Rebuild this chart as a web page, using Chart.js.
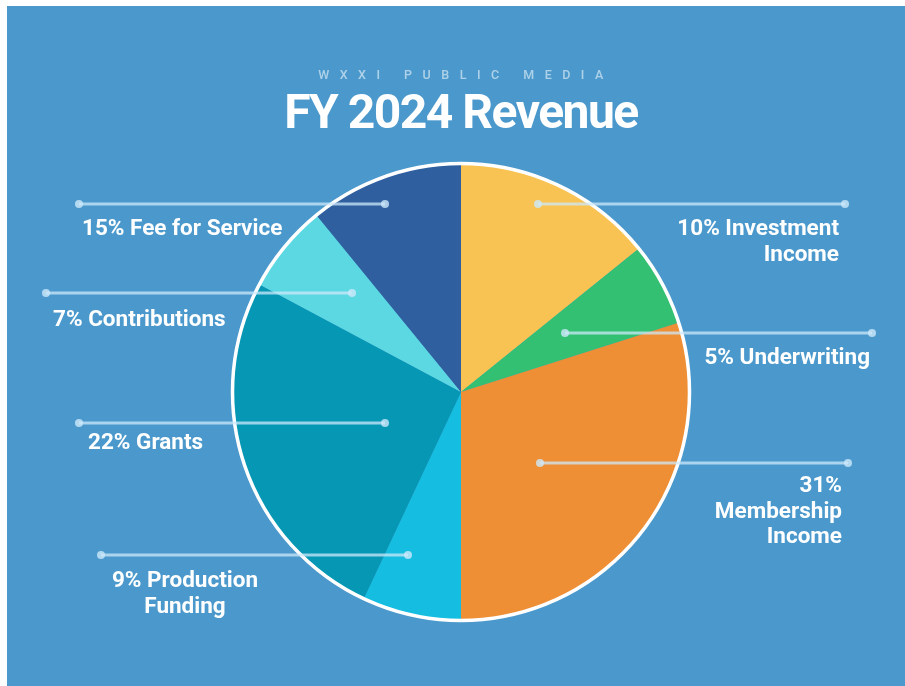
<!DOCTYPE html>
<html>
<head>
<meta charset="utf-8">
<script src="https://cdn.jsdelivr.net/npm/chart.js@4.4.1/dist/chart.umd.min.js"></script>
<style>
  html, body { margin: 0; padding: 0; background: #fff; }
  .panel { position: absolute; left: 7px; top: 6px; width: 898px; height: 680px; background: #4b99cc; }
  #revChart { position: absolute; left: 0; top: 0; }
  .sub { position: absolute; left: 0; width: 932px; top: 67px; text-align: center;
         font: 500 12.5px Roboto, sans-serif; letter-spacing: 10.5px; color: rgba(255,255,255,0.55); }
  .title { position: absolute; left: 0; width: 922px; top: 83px; text-align: center;
           font: 700 48px Roboto, sans-serif; letter-spacing: -1.5px; color: #fff; }
</style>
</head>
<body>
<div class="panel"></div>
<canvas id="revChart" width="905" height="686"></canvas>
<div class="sub">WXXI PUBLIC MEDIA</div>
<div class="title">FY 2024 Revenue</div>
<script>
// categories, clockwise from 12 o'clock
const labels = ['Investment Income', 'Underwriting', 'Membership Income', 'Production Funding', 'Grants', 'Contributions', 'Fee for Service'];
// percentages printed on the graphic
const printedPct = [10, 5, 31, 9, 22, 7, 15];
// slice shares as actually drawn in the picture
const sliceShare = [14.2, 5.9, 29.9, 7.0, 25.8, 6.3, 10.9];
const sliceColors = ['#f8c352', '#34c072', '#ee8f35', '#15bde0', '#0597b4', '#5cd8e2', '#2f5f9f'];

// text of each callout
const calloutText = [
  [printedPct[0] + '% Investment', 'Income'],
  [printedPct[1] + '% Underwriting'],
  [printedPct[2] + '%', 'Membership', 'Income'],
  [printedPct[3] + '% Production', 'Funding'],
  [printedPct[4] + '% Grants'],
  [printedPct[5] + '% Contributions'],
  [printedPct[6] + '% Fee for Service']
];
// callout placement, px relative to the pie centre (line y, line ends, text anchor)
const calloutPos = [
  { ly: -188, x1: 77,   x2: 384,  tx: 378,  ty: -157, align: 'right' },
  { ly: -59,  x1: 104,  x2: 411,  tx: 409,  ty: -28,  align: 'right' },
  { ly: 71,   x1: 79,   x2: 387,  tx: 381,  ty: 100,  align: 'right' },
  { ly: 163,  x1: -360, x2: -53,  tx: -276, ty: 195,  align: 'center' },
  { ly: 31,   x1: -382, x2: -76,  tx: -373, ty: 57,   align: 'left' },
  { ly: -99,  x1: -415, x2: -109, tx: -408, ty: -66,  align: 'left' },
  { ly: -188, x1: -382, x2: -76,  tx: -379, ty: -157, align: 'left' }
];

const ringAndCallouts = {
  id: 'ringAndCallouts',
  afterDatasetsDraw(chart) {
    const arc = chart.getDatasetMeta(0).data[0];
    const cx = arc.x, cy = arc.y, r = arc.outerRadius;
    const ctx = chart.ctx;
    ctx.save();
    // white rim
    ctx.beginPath();
    ctx.arc(cx, cy, r - 0.5, 0, Math.PI * 2);
    ctx.strokeStyle = '#ffffff';
    ctx.lineWidth = 3.5;
    ctx.stroke();

    calloutPos.forEach((p, i) => {
      const y = cy + p.ly;
      ctx.strokeStyle = 'rgba(205,232,250,0.75)';
      ctx.fillStyle = 'rgba(205,232,250,0.8)';
      ctx.lineWidth = 3;
      ctx.beginPath();
      ctx.moveTo(cx + p.x1, y);
      ctx.lineTo(cx + p.x2, y);
      ctx.stroke();
      [p.x1, p.x2].forEach(x => {
        ctx.beginPath();
        ctx.arc(cx + x, y, 4, 0, Math.PI * 2);
        ctx.fill();
      });
      ctx.fillStyle = '#ffffff';
      ctx.font = 'bold 22.5px Roboto, sans-serif';
      ctx.textAlign = p.align;
      ctx.textBaseline = 'alphabetic';
      calloutText[i].forEach((t, k) => {
        ctx.fillText(t, cx + p.tx, cy + p.ty + k * 25.5);
      });
    });
    ctx.restore();
  }
};

new Chart(document.getElementById('revChart'), {
  type: 'pie',
  data: {
    labels: labels,
    datasets: [{
      data: sliceShare,
      backgroundColor: sliceColors,
      borderWidth: 0,
      hoverOffset: 0
    }]
  },
  options: {
    responsive: false,
    animation: false,
    events: [],
    layout: { padding: { left: 232, right: 215, top: 163, bottom: 65 } },
    plugins: {
      legend: { display: false },
      tooltip: { enabled: false }
    }
  },
  plugins: [ringAndCallouts]
});
</script>
</body>
</html>
